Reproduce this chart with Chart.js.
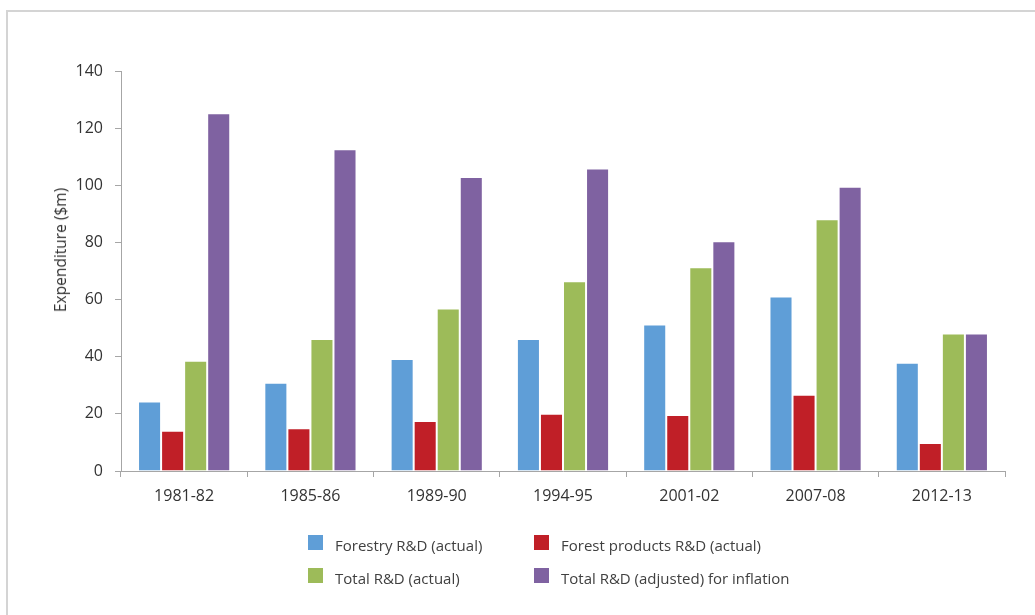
<!DOCTYPE html>
<html>
<head>
<meta charset="utf-8">
<script src="https://cdn.jsdelivr.net/npm/chart.js@4/dist/chart.umd.min.js"></script>
<style>
  html, body { margin: 0; padding: 0; background: #fff; }
  #wrap { position: relative; width: 1035px; height: 615px; overflow: hidden; }
  #frame { position: absolute; left: 6px; top: 10px; width: 1040px; height: 620px;
           border-top: 2px solid #d4d4d4; border-left: 2px solid #d4d4d4; box-sizing: border-box; }
  canvas { position: absolute; left: 0; top: 0; }
  #ytitle { position: absolute; left: 60px; top: 250px; transform: translate(-50%, -50%) rotate(-90deg);
            font-family: "Open Sans", sans-serif; font-size: 15.5px; color: #333; white-space: nowrap; }
  .leg { position: absolute; font-family: "Open Sans", sans-serif; font-size: 15px; color: #404040; white-space: nowrap; }
  .leg .box { position: absolute; left: 0; top: 0; width: 15px; height: 15px; }
  .leg .txt { position: absolute; left: 27px; top: 0px; line-height: 20px; }
</style>
</head>
<body>
<div id="wrap">
  <div id="frame"></div>
  <canvas id="c" width="1035" height="615"></canvas>
  <div id="ytitle">Expenditure ($m)</div>
  <div id="legend"></div>
</div>
<script>
const categories = ["1981-82", "1985-86", "1989-90", "1994-95", "2001-02", "2007-08", "2012-13"];
const forestry = [24.3, 30.9, 39.2, 46.2, 51.3, 61.1, 37.9];
const forestProducts = [14.1, 15.0, 17.5, 20.0, 19.6, 26.7, 9.8];
const totalActual = [38.6, 46.2, 56.9, 66.4, 71.3, 88.1, 48.1];
const totalAdjusted = [125.2, 112.6, 102.9, 105.9, 80.4, 99.5, 48.1];
const seriesNames = ["Forestry R&D (actual)", "Forest products R&D (actual)", "Total R&D (actual)", "Total R&D (adjusted) for inflation"];
const seriesColors = ["#5f9ed7", "#c01f27", "#9dbb59", "#7f62a1"];
const yTicks = [0, 20, 40, 60, 80, 100, 120, 140];

const seriesData = [forestry, forestProducts, totalActual, totalAdjusted];
const datasets = seriesData.map((d, i) => ({
  label: seriesNames[i],
  data: d,
  backgroundColor: seriesColors[i],
  borderColor: "rgba(255,255,255,0.55)",
  borderWidth: 1,
  categoryPercentage: 0.73,
  barPercentage: 1.0
}));

const axisColor = "#a6a6a6";
const tickFont = { family: "'Open Sans', sans-serif", size: 16 };

new Chart(document.getElementById("c"), {
  type: "bar",
  data: { labels: categories, datasets: datasets },
  options: {
    responsive: false,
    animation: false,
    events: [],
    layout: { padding: { left: 0, right: 30, top: 71, bottom: 94 } },
    plugins: { legend: { display: false }, tooltip: { enabled: false }, title: { display: false } },
    scales: {
      x: {
        grid: { display: true, drawOnChartArea: false, drawTicks: true, tickLength: 6, color: axisColor, offset: true },
        border: { display: true, color: axisColor, width: 1 },
        ticks: { color: "#333", font: tickFont, padding: 10, maxRotation: 0 },
        afterFit: (s) => { s.height = 50; }
      },
      y: {
        min: 0, max: 140,
        afterBuildTicks: (s) => { s.ticks = yTicks.map(v => ({ value: v })); },
        grid: { display: true, drawOnChartArea: false, drawTicks: true, tickLength: 6, color: axisColor },
        border: { display: true, color: axisColor, width: 1 },
        ticks: { color: "#333", font: tickFont, padding: 12 },
        afterFit: (s) => { s.width = 121; }
      }
    }
  }
});

// HTML legend (2 x 2 grid) built from series arrays
const legendPos = [[308, 535], [534, 535], [308, 568], [534, 568]];
const legendEl = document.getElementById("legend");
seriesNames.forEach((name, i) => {
  const item = document.createElement("div");
  item.className = "leg";
  item.style.left = legendPos[i][0] + "px";
  item.style.top = legendPos[i][1] + "px";
  const box = document.createElement("div");
  box.className = "box";
  box.style.background = seriesColors[i];
  const txt = document.createElement("div");
  txt.className = "txt";
  txt.textContent = name;
  item.appendChild(box);
  item.appendChild(txt);
  legendEl.appendChild(item);
});
</script>
</body>
</html>
